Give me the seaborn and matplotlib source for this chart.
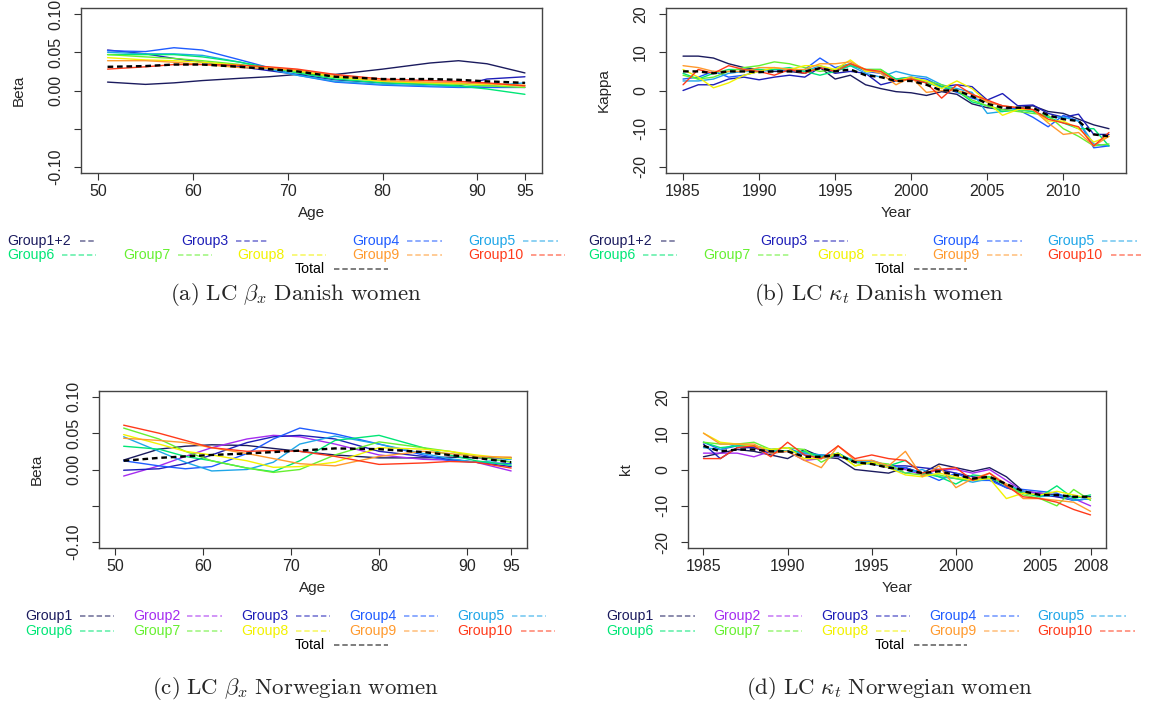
import pandas as pd
import seaborn as sns
import matplotlib.pyplot as plt
from matplotlib.lines import Line2D

# --- data --------------------------------------------------------------
ages = [51, 55, 58, 61, 65, 68, 71, 75, 80, 85, 88, 91, 95]
years_dk = list(range(1985, 2014))
years_no = list(range(1985, 2009))

# (a) LC beta_x, Danish women
beta_dk = {
    "Group1+2": [0.011, 0.008, 0.010, 0.013, 0.016, 0.018, 0.021, 0.021, 0.028, 0.036, 0.039, 0.035, 0.023],
    "Group3":   [0.053, 0.048, 0.042, 0.037, 0.031, 0.026, 0.021, 0.014, 0.010, 0.008, 0.006, 0.015, 0.018],
    "Group4":   [0.052, 0.051, 0.056, 0.053, 0.040, 0.030, 0.020, 0.011, 0.007, 0.005, 0.004, 0.004, 0.004],
    "Group5":   [0.050, 0.048, 0.048, 0.046, 0.037, 0.028, 0.020, 0.012, 0.008, 0.006, 0.005, 0.006, 0.010],
    "Group6":   [0.047, 0.047, 0.047, 0.044, 0.037, 0.030, 0.023, 0.015, 0.010, 0.008, 0.006, 0.002, -0.005],
    "Group7":   [0.047, 0.044, 0.042, 0.039, 0.034, 0.029, 0.025, 0.017, 0.012, 0.009, 0.008, 0.006, 0.004],
    "Group8":   [0.043, 0.040, 0.039, 0.037, 0.033, 0.030, 0.026, 0.018, 0.012, 0.010, 0.009, 0.008, 0.006],
    "Group9":   [0.039, 0.039, 0.037, 0.034, 0.030, 0.029, 0.027, 0.020, 0.013, 0.011, 0.010, 0.009, 0.007],
    "Group10":  [0.028, 0.031, 0.034, 0.034, 0.033, 0.031, 0.028, 0.021, 0.015, 0.013, 0.012, 0.010, 0.006],
}
beta_dk_total = [0.031, 0.032, 0.034, 0.034, 0.031, 0.028, 0.025, 0.018, 0.015, 0.015, 0.014, 0.012, 0.010]

# (b) LC kappa_t, Danish women
kappa_dk = {
    "Group1+2": [9, 9, 8.5, 7, 6, 5.5, 5, 5, 4.5, 6, 3, 4, 1.5, 0.5, -0.3, -0.6, -1.3, -0.3, -1, -3.5, -4.5, -5, -4.5, -4, -5.5, -6, -7.5, -9, -10],
    "Group3":   [0, 1.5, 1.5, 3, 3.5, 2.8, 3.5, 4, 3.5, 6, 4.5, 5, 4.5, 1.5, 2.5, 3, 2, 1, 1.5, 1, -2.5, -0.8, -4, -3.8, -6, -7, -6.2, -11.5, -11.5],
    "Group4":   [3, 3.5, 5, 3.5, 4, 5, 5.5, 5, 5.5, 8.5, 6, 7, 5, 4.5, 3, 3.5, 3, 1, -0.5, -2, -3, -4, -5, -7, -9.5, -6.5, -8, -15, -14.5],
    "Group5":   [2.5, 2.5, 3, 4.5, 5, 5, 5.5, 5.5, 5, 6.5, 5, 6.5, 4.5, 3.5, 5, 4, 3.5, 1.5, 0.5, -0.5, -6, -5.5, -5, -5.5, -7, -7, -8, -14, -14.5],
    "Group6":   [4.5, 3, 4.5, 5.5, 5.5, 5.5, 5.5, 6, 5, 4, 5, 6.5, 5.5, 5.5, 3, 3.5, 2, 1, 0, -3, -4, -5.5, -5, -5.5, -7, -8.5, -10, -10, -14.5],
    "Group7":   [4, 3, 3.5, 5, 6, 6.5, 7.5, 7, 6, 5, 5.5, 7, 5.5, 5.5, 2.5, 3, 2.5, 1.5, 0, -2.5, -4, -5, -5.5, -6, -6.5, -10, -12, -14.5, -14],
    "Group8":   [5.5, 3.5, 0.7, 2, 4, 5, 6, 5.5, 6.5, 6.5, 5.5, 8, 5, 5, 2.5, 3.5, 2.5, 0.5, 2.5, 0.5, -3, -6.5, -5, -5, -8, -8, -10, -13.5, -12],
    "Group9":   [6.5, 6, 5, 5, 5, 6, 6, 5.5, 5.5, 7, 7, 7.5, 5.5, 4.5, 1.5, 3.5, -0.5, 0, 0, -1, -3, -4, -4.5, -5, -8.5, -11.5, -11, -14.5, -12],
    "Group10":  [1.5, 5.5, 4.5, 6.5, 5.5, 5, 4, 5.5, 4.5, 6, 5, 7, 5.5, 5, 2.5, 3, 2, -2, 1.5, -1, -2.5, -4, -4.5, -5, -7.5, -8.5, -9.5, -14.5, -11],
}
kappa_dk_total = [5, 5, 4.5, 5, 5, 4.8, 5, 5, 5, 5.8, 5, 5.5, 4, 3.5, 2.5, 2.5, 1.5, 0, 0, -1.5, -3.5, -4.5, -4.5, -4.5, -6.5, -7.5, -8, -11.5, -12]

# (c) LC beta_x, Norwegian women
beta_no = {
    "Group1":  [0.013, 0.028, 0.032, 0.034, 0.033, 0.029, 0.025, 0.020, 0.016, 0.016, 0.017, 0.016, 0.016],
    "Group2":  [-0.009, 0.005, 0.018, 0.030, 0.042, 0.047, 0.045, 0.035, 0.020, 0.014, 0.013, 0.010, -0.002],
    "Group3":  [-0.001, 0.001, 0.008, 0.020, 0.037, 0.045, 0.047, 0.042, 0.025, 0.018, 0.014, 0.010, 0.004],
    "Group4":  [0.012, 0.005, 0.001, 0.004, 0.022, 0.042, 0.057, 0.049, 0.035, 0.020, 0.012, 0.010, 0.008],
    "Group5":  [0.045, 0.025, 0.010, -0.002, 0.000, 0.010, 0.035, 0.046, 0.035, 0.022, 0.015, 0.010, 0.014],
    "Group6":  [0.032, 0.028, 0.018, 0.012, 0.002, -0.003, 0.012, 0.040, 0.047, 0.030, 0.020, 0.012, 0.006],
    "Group7":  [0.057, 0.042, 0.025, 0.012, 0.002, -0.004, 0.000, 0.020, 0.038, 0.030, 0.025, 0.018, 0.010],
    "Group8":  [0.048, 0.035, 0.025, 0.020, 0.012, 0.003, 0.004, 0.010, 0.030, 0.028, 0.025, 0.020, 0.015],
    "Group9":  [0.043, 0.040, 0.037, 0.030, 0.022, 0.015, 0.008, 0.005, 0.018, 0.025, 0.022, 0.018, 0.017],
    "Group10": [0.061, 0.050, 0.040, 0.030, 0.025, 0.026, 0.025, 0.018, 0.007, 0.009, 0.011, 0.010, 0.002],
}
beta_no_total = [0.012, 0.016, 0.018, 0.020, 0.022, 0.024, 0.026, 0.029, 0.028, 0.024, 0.020, 0.016, 0.010]

# (d) LC kappa_t, Norwegian women
kappa_no = {
    "Group1":  [3.5, 4.5, 5.5, 5, 4, 3, 5.5, 3.5, 3, 0, -0.5, -1, 0.5, -1, 1.5, 0.5, -0.5, 0.5, -2, -6, -6.5, -7, -7.5, -7.5],
    "Group2":  [4.5, 4.5, 4.5, 3.5, 5, 5, 2.5, 3, 4, 2, 1.5, 0.5, 0, -1.5, 0, 0, -1, 0, -3, -6, -6.5, -7.5, -8, -10],
    "Group3":  [7, 3, 6, 6, 4.5, 5, 4.5, 4, 3.5, 2.5, 2, 1, 1, 0.5, 0, -1, -2, -2.5, -5, -6.5, -7, -7.5, -8.5, -8],
    "Group4":  [7.5, 5.5, 6.5, 6.5, 5.5, 6, 4, 3.5, 4.5, 2, 2.5, 1, 0.5, -1, -3, -1, -3, -3, -5, -5.5, -6, -6.5, -8.5, -8],
    "Group5":  [6, 5.5, 7, 6.5, 5, 5, 4.5, 4, 4, 2.5, 2, 0.5, -1, 0, -2, -2.5, -3.5, -2.5, -4, -6, -7.5, -7, -8.5, -8],
    "Group6":  [7.5, 6, 6.5, 6.5, 5.5, 5, 5, 3.5, 4.5, 2, 1.5, 1, 2.5, -1, -2, -4, -1.5, -2, -4.5, -6.5, -7.5, -4.5, -8, -7],
    "Group7":  [7.5, 7, 7, 7.5, 5.5, 6, 5.5, 2, 4.5, 1, 2, 1.5, -1, -1.5, -1.5, -2.5, -3, -2, -4, -7, -8, -10, -5.5, -8.5],
    "Group8":  [10, 7.5, 7, 6.5, 5.5, 6, 3, 3, 4.5, 1, 2, 0.5, -1.5, -2, -1, -2, -3, -2.5, -8, -6.5, -7, -6, -7, -8],
    "Group9":  [10, 7, 7, 7, 4.5, 5, 2.5, 0.5, 6.5, 2.5, 2.5, 1, 5, -2, 1, -5, -2.5, -1, -4, -8, -8, -8.5, -9, -11.5],
    "Group10": [3, 3, 6, 6.5, 3.5, 7.5, 4, 3, 6.5, 3, 4, 3, 2.5, -1, 0, 0.5, -3, -1, -4.5, -7.5, -8, -9, -11, -12.5],
}
kappa_no_total = [6.5, 5, 5.5, 5.5, 5, 5, 3.5, 3.5, 4, 2, 1.5, 0.5, 0, -1, -0.5, -1.5, -2.5, -2, -4, -6, -7, -7, -7.5, -7.5]

colors = {
    "Group1+2": "#1b1b5e", "Group1": "#1b1b5e", "Group2": "#a52cf0",
    "Group3": "#1e1eb8", "Group4": "#1f5cff", "Group5": "#1ea6e8",
    "Group6": "#00e676", "Group7": "#66f030", "Group8": "#f2f200",
    "Group9": "#ff9a2e", "Group10": "#ff3a1a", "Total": "black",
}

sns.set_style("white")
plt.rcParams["font.family"] = ["Liberation Sans", "DejaVu Sans"]
plt.rcParams["mathtext.fontset"] = "cm"

W, H = 1151, 706
fig = plt.figure(figsize=(W / 100, H / 100), dpi=100)


def px_axes(l, t, r, b):
    return fig.add_axes([l / W, 1 - b / H, (r - l) / W, (b - t) / H])


def draw_panel(ax, x, series, total, xlim, ylim, yticks, ylabels, xticks, xlabel, ylabel):
    df = pd.DataFrame([(g, xi, yi) for g, ys in series.items() for xi, yi in zip(x, ys)],
                      columns=["group", "x", "y"])
    sns.lineplot(data=df, x="x", y="y", hue="group", palette=colors, estimator=None,
                 lw=1.0, legend=False, ax=ax)
    sns.lineplot(x=x, y=total, color="black", lw=1.7, ax=ax)
    ax.lines[-1].set_dashes([2.4, 1.6])
    ax.set_xlim(*xlim)
    ax.set_ylim(*ylim)
    ax.set_xticks(xticks)
    ax.set_yticks(yticks)
    ax.set_yticklabels(ylabels, rotation=90, va="center")
    ax.set_xlabel(xlabel, fontsize=11, labelpad=5)
    ax.set_ylabel(ylabel, fontsize=11, labelpad=16)
    ax.tick_params(direction="out", length=5, width=0.8, labelsize=11.5, color="#333333",
                   bottom=True, left=True)
    ax.tick_params(axis="x", pad=3)
    ax.tick_params(axis="y", pad=8)
    for s in ax.spines.values():
        s.set_color("#444444")
        s.set_linewidth(1.0)


def draw_legend(entries, total_pos, caption, cap_x, cap_y):
    for label, tx, ty, d0, d1 in entries + [("Total",) + total_pos]:
        fig.text(tx / W, 1 - ty / H, label, color=colors[label], fontsize=10.2,
                 ha="left", va="center")
        fig.add_artist(Line2D([d0 / W, d1 / W], [1 - ty / H] * 2, transform=fig.transFigure,
                              color=colors[label], alpha=0.55, lw=1.3, dashes=(3, 1.6)))
    fig.text(cap_x / W, 1 - cap_y / H, caption, fontsize=16.5, ha="center", va="center")


beta_ticks = [-0.10, -0.05, 0.00, 0.05, 0.10]
beta_labels = ["-0.10", "", "0.00", "0.05", "0.10"]
kappa_ticks = [-20, -10, 0, 10, 20]

ax_a = px_axes(81, 8, 542, 173)
draw_panel(ax_a, ages, beta_dk, beta_dk_total, (48.2, 96.8), (-0.108, 0.108),
           beta_ticks, beta_labels, [50, 60, 70, 80, 90, 95], "Age", "Beta")
ax_b = px_axes(666, 8, 1126, 173)
draw_panel(ax_b, years_dk, kappa_dk, kappa_dk_total, (1983.88, 2014.12), (-21.6, 21.6),
           kappa_ticks, [str(t) for t in kappa_ticks], [1985, 1990, 1995, 2000, 2005, 2010], "Year", "Kappa")
ax_c = px_axes(99, 391, 527, 548)
draw_panel(ax_c, ages, beta_no, beta_no_total, (48.2, 96.8), (-0.108, 0.108),
           beta_ticks, beta_labels, [50, 60, 70, 80, 90, 95], "Age", "Beta")
ax_d = px_axes(688, 391, 1106, 548)
draw_panel(ax_d, years_no, kappa_no, kappa_no_total, (1984.08, 2008.92), (-21.6, 21.6),
           kappa_ticks, [str(t) for t in kappa_ticks], [1985, 1990, 1995, 2000, 2005, 2008], "Year", "kt")

draw_legend([
    ("Group1+2", 7, 241, 80, 96), ("Group3", 181, 241, 236, 269),
    ("Group4", 352, 241, 407, 442), ("Group5", 468, 241, 523, 558),
    ("Group6", 7, 255, 62, 96), ("Group7", 123, 255, 178, 212),
    ("Group8", 237, 255, 292, 326), ("Group9", 352, 255, 407, 442),
    ("Group10", 468, 255, 531, 565),
], (295, 269, 334, 388), r"$\mathrm{(a)\ LC\ }\beta_x\mathrm{\ Danish\ women}$", 296, 295)

draw_legend([
    ("Group1+2", 588, 241, 661, 676), ("Group3", 760, 241, 814, 848),
    ("Group4", 932, 241, 987, 1022), ("Group5", 1047, 241, 1102, 1137),
    ("Group6", 588, 255, 643, 677), ("Group7", 703, 255, 758, 791),
    ("Group8", 817, 255, 872, 906), ("Group9", 932, 255, 987, 1022),
    ("Group10", 1047, 255, 1111, 1141),
], (875, 269, 914, 967), r"$\mathrm{(b)\ LC\ }\kappa_t\mathrm{\ Danish\ women}$", 879, 295)

draw_legend([
    ("Group1", 25, 616, 80, 114), ("Group2", 133, 616, 187, 222),
    ("Group3", 241, 616, 296, 330), ("Group4", 349, 616, 404, 438),
    ("Group5", 457, 616, 512, 546),
    ("Group6", 25, 631, 80, 114), ("Group7", 133, 631, 187, 222),
    ("Group8", 241, 631, 296, 330), ("Group9", 349, 631, 404, 438),
    ("Group10", 457, 631, 521, 555),
], (295, 645, 334, 388), r"$\mathrm{(c)\ LC\ }\beta_x\mathrm{\ Norwegian\ women}$", 296, 688)

draw_legend([
    ("Group1", 606, 616, 660, 695), ("Group2", 713, 616, 768, 802),
    ("Group3", 821, 616, 876, 910), ("Group4", 929, 616, 984, 1019),
    ("Group5", 1037, 616, 1091, 1126),
    ("Group6", 606, 631, 660, 695), ("Group7", 713, 631, 768, 802),
    ("Group8", 821, 631, 876, 910), ("Group9", 929, 631, 984, 1019),
    ("Group10", 1037, 631, 1100, 1135),
], (875, 645, 914, 967), r"$\mathrm{(d)\ LC\ }\kappa_t\mathrm{\ Norwegian\ women}$", 889, 688)

fig.savefig("out.png", dpi=100)
